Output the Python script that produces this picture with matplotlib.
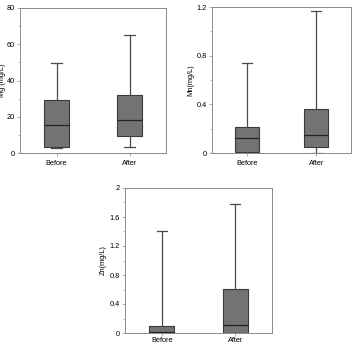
import matplotlib
matplotlib.use('Agg')
import matplotlib.pyplot as plt
from matplotlib.ticker import MultipleLocator

groups = ['Before', 'After']

# whisker low, Q1, median, Q3, whisker high
mg_stats = [[2.5, 3.5, 15.5, 29, 49.5], [3.5, 9.5, 18, 32, 65]]
mn_stats = [[0, 0.01, 0.12, 0.21, 0.74], [0, 0.05, 0.15, 0.36, 1.17]]
zn_stats = [[0, 0.0, 0.02, 0.10, 1.41], [0, 0.0, 0.11, 0.61, 1.78]]

mg_ticks = [0, 20, 40, 60, 80]
mn_ticks = [0, 0.4, 0.8, 1.2]
zn_ticks = [0, 0.4, 0.8, 1.2, 1.6, 2]

plt.rcParams['font.family'] = 'Liberation Sans'
plt.rcParams['font.size'] = 5.3

fig = plt.figure(figsize=(3.55, 3.44), dpi=100)
W, H = 355.0, 344.0


def panel(rect, stats, ticks, minor, label, xpad=3, lpad=2):
    l, t, r, b = rect
    ax = fig.add_axes([l / W, 1 - b / H, (r - l) / W, (b - t) / H])
    bx = []
    for name, s in zip(groups, stats):
        bx.append(dict(label=name, whislo=s[0], q1=s[1], med=s[2], q3=s[3], whishi=s[4], fliers=[]))
    ax.bxp(bx, positions=[1, 2], widths=0.34, patch_artist=True, showfliers=False,
           boxprops=dict(facecolor='#737373', edgecolor='#3a3a3a', linewidth=0.8),
           medianprops=dict(color='#222222', linewidth=0.9),
           whiskerprops=dict(color='#4a4a4a', linewidth=0.9),
           capprops=dict(color='#4a4a4a', linewidth=0.9),
           capwidths=0.14)
    ax.set_xlim(0.5, 2.5)
    ax.set_ylim(ticks[0], ticks[-1])
    ax.set_yticks(ticks)
    ax.set_yticklabels([('%g' % v) for v in ticks])
    ax.yaxis.set_minor_locator(MultipleLocator(minor))
    ax.set_ylabel(label, labelpad=lpad)
    for sp in ax.spines.values():
        sp.set_color('#8a8a8a')
        sp.set_linewidth(0.7)
    ax.tick_params(length=2, width=0.5, color='#8a8a8a', pad=1.5)
    ax.tick_params(axis='x', pad=xpad)
    ax.tick_params(which='minor', length=1.2, width=0.4, color='#8a8a8a')
    return ax


panel((20, 8, 166, 153), mg_stats, mg_ticks, 10, 'Mg (mg/L)', lpad=0.5)
panel((212, 7, 351, 153), mn_stats, mn_ticks, 0.2, 'Mn(mg/L)')
panel((125, 188, 272, 333), zn_stats, zn_ticks, 0.2, 'Zn(mg/L)', xpad=1)

fig.savefig('out.png', dpi=100)
